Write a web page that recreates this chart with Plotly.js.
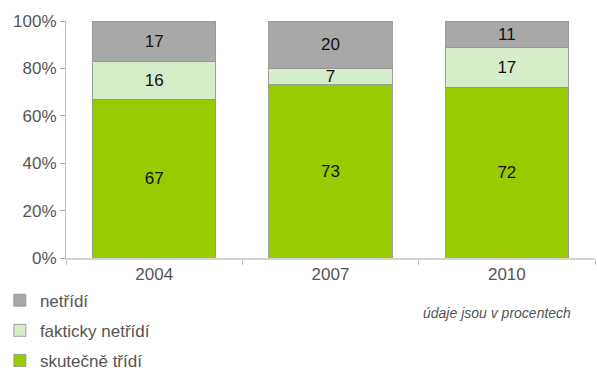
<!DOCTYPE html>
<html>
<head>
<meta charset="utf-8">
<script src="https://cdn.plot.ly/plotly-3.0.1.min.js"></script>
<style>html,body{margin:0;padding:0;background:#fff;}#chart{width:597px;height:376px;}</style>
</head>
<body>
<div id="chart"></div>
<script>
const years = ['2004', '2007', '2010'];
const skutecneTridi = [67, 73, 72];
const fakatickyNetridi = [16, 7, 17];
const netridi = [17, 20, 11];
const seriesNames = ['skutečně třídí', 'fakticky netřídí', 'netřídí'];
const seriesValues = [skutecneTridi, fakatickyNetridi, netridi];
const seriesColors = ['#98cc00', '#d6edca', '#a8a8a8'];
const legendRanks = [3, 2, 1];

const traces = seriesValues.map((vals, i) => ({
  type: 'bar',
  name: seriesNames[i],
  x: years,
  y: vals,
  text: vals.map(String),
  textposition: 'inside',
  insidetextanchor: 'middle',
  textangle: 0,
  constraintext: 'none',
  textfont: {family: 'Liberation Sans, Arial, sans-serif', size: 17, color: '#111'},
  hoverinfo: 'skip',
  legendrank: legendRanks[i],
  legendgroup: 'g' + i,
  marker: {
    color: seriesColors[i],
    line: {color: 'rgba(150,150,150,0.9)', width: 1}
  }
}));

const layout = {
  width: 597, height: 376,
  margin: {l: 66, r: 2, t: 21, b: 118, autoexpand: false},
  barmode: 'stack',
  bargap: 0.3,
  paper_bgcolor: '#fff', plot_bgcolor: '#fff',
  font: {family: 'Liberation Sans, Arial, sans-serif', color: '#555', size: 17},
  showlegend: true,
  legend: {
    x: -0.125, xanchor: 'left', y: -0.104, yanchor: 'top',
    traceorder: 'grouped', tracegroupgap: 5,
    font: {size: 17, color: '#555'},
    itemwidth: 30, bgcolor: 'rgba(0,0,0,0)'
  },
  xaxis: {
    type: 'category',
    showline: true, linecolor: '#d3d3d3', linewidth: 2,
    ticks: 'outside', tickson: 'boundaries', ticklen: 5, tickcolor: '#c8c8c8',
    tickfont: {size: 17, color: '#555'},
    showgrid: false, zeroline: false, fixedrange: true
  },
  yaxis: {
    range: [0, 100],
    tickvals: [0, 20, 40, 60, 80, 100],
    ticktext: ['0%', '20%', '40%', '60%', '80%', '100%'],
    showline: true, linecolor: '#c0c0c0', linewidth: 1,
    ticks: 'outside', ticklen: 5, tickcolor: '#aaa',
    tickfont: {size: 17, color: '#555'},
    showgrid: false, zeroline: false, fixedrange: true
  },
  annotations: [{
    text: 'údaje jsou v procentech',
    xref: 'paper', yref: 'paper', x: 0.815, y: -0.232,
    xanchor: 'center', yanchor: 'middle', showarrow: false,
    font: {size: 14, color: '#555', family: 'Liberation Sans, Arial, sans-serif', style: 'italic'}
  }]
};

Plotly.newPlot('chart', traces, layout, {displayModeBar: false, staticPlot: true});
</script>
</body>
</html>
